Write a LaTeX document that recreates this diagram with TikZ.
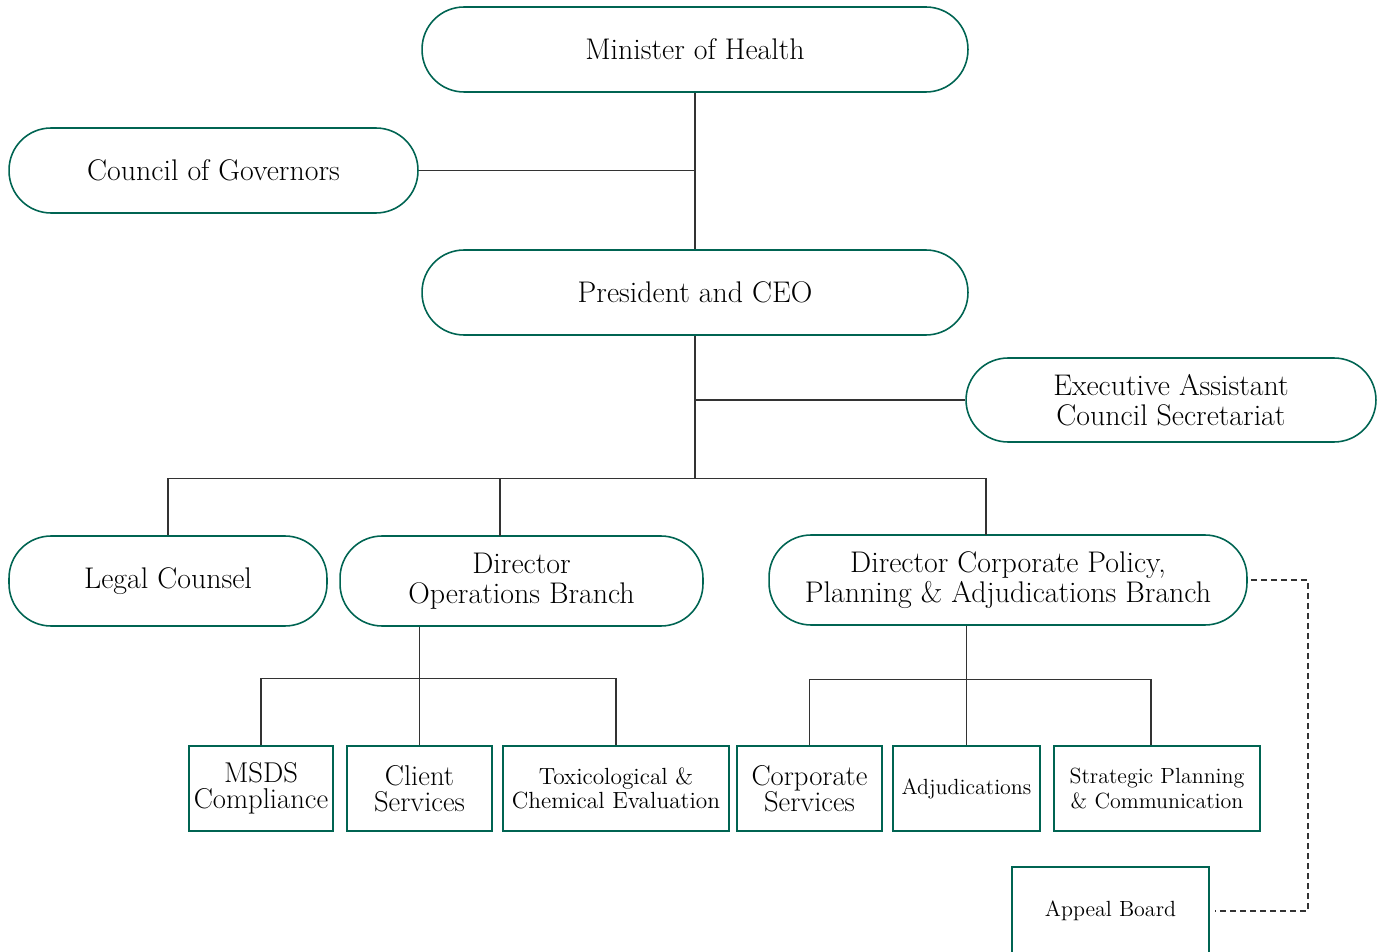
\documentclass[tikz,border=0pt]{standalone}
\usepackage{fontspec}
\usepackage{tikz}
\usetikzlibrary{positioning}
\definecolor{boardgreen}{RGB}{0,100,82}

\begin{document}
\begin{tikzpicture}[x=0.02cm, y=-0.02cm,
    pill/.style={draw=boardgreen, line width=0.9pt, rounded corners=0.84cm,
      align=center, inner sep=0pt, minimum height=1.7cm,
      font=\fontsize{17}{17}\selectfont},
    unitbox/.style={draw=boardgreen, line width=0.8pt, align=center,
      inner sep=0pt, minimum height=1.7cm, font=\fontsize{16.3}{15}\selectfont},
    narrow/.style={font=\fontsize{12.5}{14}\selectfont},
    link/.style={draw=black!80, line width=0.6pt}]

    \useasboundingbox (0,0) rectangle (1382,952);

    % Top level
    \node[pill, minimum width=10.92cm] (minister) at (695,49.5) {Minister of Health};
    \node[pill, minimum width=8.18cm] (council) at (213.5,170.5) {Council of Governors};
    \node[pill, minimum width=10.92cm] (president) at (695,292.5) {President and CEO};
    \node[pill, minimum width=8.2cm, minimum height=1.68cm] (assistant) at (1171,400)
      {Executive Assistant\\Council Secretariat};

    % Branches
    \node[pill, minimum width=6.36cm, minimum height=1.8cm] (legal) at (168,581) {Legal Counsel};
    \node[pill, minimum width=7.26cm, minimum height=1.8cm] (operations) at (521.5,581)
      {Director\\Operations Branch};
    \node[pill, minimum width=9.56cm, minimum height=1.8cm] (corporate) at (1008,580)
      {Director Corporate Policy,\\Planning \& Adjudications Branch};

    % Units
    \node[unitbox, minimum width=2.88cm] (msds) at (261,788.5) {MSDS\\Compliance};
    \node[unitbox, minimum width=2.9cm] (client) at (419.5,788.5) {Client\\Services};
    \node[unitbox, narrow, font=\fontsize{13.3}{14}\selectfont, minimum width=4.52cm] (toxic)
      at (616,788.5) {Toxicological \&\\Chemical Evaluation};
    \node[unitbox, minimum width=2.9cm] (services) at (809.5,788.5) {Corporate\\Services};
    \node[unitbox, narrow, minimum width=2.94cm] (adjud) at (966.5,788.5) {Adjudications};
    \node[unitbox, narrow, minimum width=4.12cm] (strategic) at (1157,788.5)
      {Strategic Planning\\\& Communication};
    \node[unitbox, narrow, minimum width=3.94cm, minimum height=1.76cm] (appeal) at (1110.5,911)
      {Appeal Board};

    % Reporting lines
    \coordinate (bus) at (695,479);
    \coordinate (operations in) at (500,536);
    \coordinate (corporate in) at (986,535);
    \draw[link] (minister.south) -- (president.north);
    \draw[link] (council.east) -- (council.east -| minister.south);
    \draw[link] (president.south) -- (bus);
    \draw[link] (assistant.west) -- (assistant.west -| president.south);
    \draw[link] (legal.north) -- ++(0,-57) -| (corporate in);
    \draw[link] (operations in) -- (operations in |- bus);

    \draw[link] (client.north |- operations.south) -- (client.north);
    \draw[link] (msds.north) -- ++(0,-67) -| (toxic.north);

    \draw[link] (adjud.north |- corporate.south) -- (adjud.north);
    \draw[link] (services.north) -- ++(0,-66) -| ([xshift=-0.12cm]strategic.north);

    % Appeal Board (dashed)
    \draw[link, dash pattern=on 3.4pt off 2.3pt]
      ([xshift=0.06cm]corporate.east) -| (1308,911) -- ([xshift=0.1cm]appeal.east);
\end{tikzpicture}
\end{document}
